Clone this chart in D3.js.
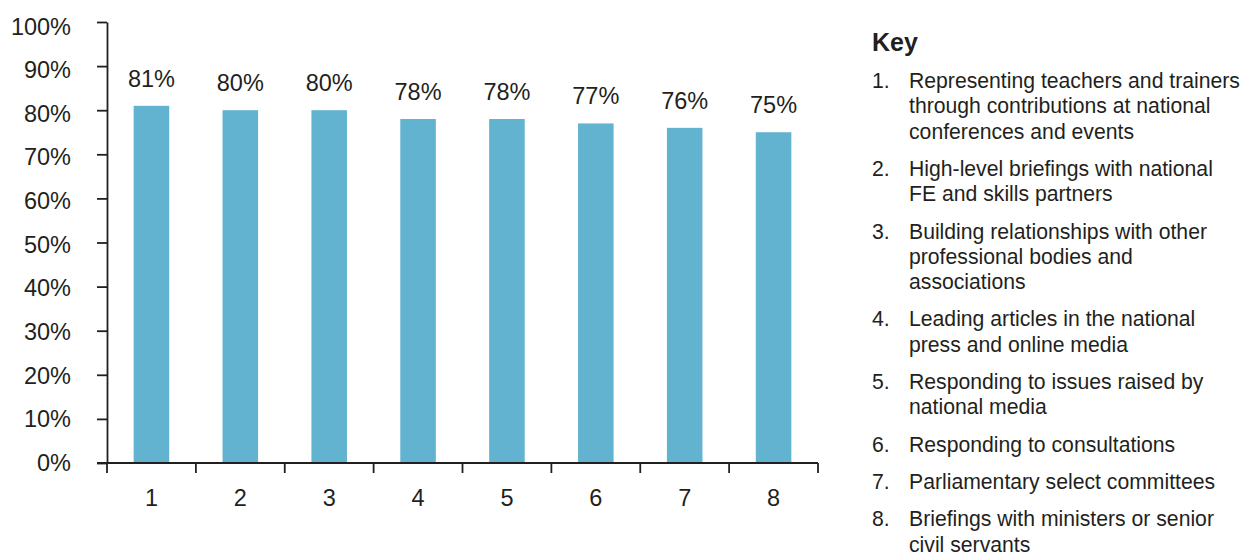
<!DOCTYPE html>
<html>
<head>
<meta charset="utf-8">
<script src="https://cdn.jsdelivr.net/npm/d3@7"></script>
<style>
  html, body { margin: 0; padding: 0; background: #fff; }
  svg { display: block; font-family: "Liberation Sans", Arial, Helvetica, sans-serif; }
</style>
</head>
<body>
<svg id="chart" width="1245" height="554"></svg>
<script>
const categories = ["1", "2", "3", "4", "5", "6", "7", "8"];
const values = [81, 80, 80, 78, 78, 77, 76, 75];
const yTicks = [0, 10, 20, 30, 40, 50, 60, 70, 80, 90, 100];
const keyTitle = "Key";
const keyNumbers = ["1.", "2.", "3.", "4.", "5.", "6.", "7.", "8."];
const keyLines = [
  ["Representing teachers and trainers", "through contributions at national", "conferences and events"],
  ["High-level briefings with national", "FE and skills partners"],
  ["Building relationships with other", "professional bodies and", "associations"],
  ["Leading articles in the national", "press and online media"],
  ["Responding to issues raised by", "national media"],
  ["Responding to consultations"],
  ["Parliamentary select committees"],
  ["Briefings with ministers or senior", "civil servants"]
];

const ink = "#231f20";
const barColor = "#62b3d0";
const axisFont = 23.5;
const keyFont = 21.2;

const svg = d3.select("#chart");

const plotLeft = 107, plotRight = 818, plotTop = 22, plotBottom = 463;

const x = d3.scaleBand().domain(categories).range([plotLeft, plotRight])
  .paddingInner(0.6).paddingOuter(0.3);
const y = d3.scaleLinear().domain([0, 100]).range([plotBottom, plotTop]);
// tick labels in the original sit on a slightly tighter spacing than the ticks
const yLabel = d3.scaleLinear().domain([0, 100]).range([plotBottom + 0.5, plotTop + 5]);

// bars
svg.append("g").selectAll("rect").data(values).join("rect")
  .attr("x", (d, i) => x(categories[i]))
  .attr("y", d => y(d))
  .attr("width", x.bandwidth())
  .attr("height", d => y(0) - y(d))
  .attr("fill", barColor);

// value labels
svg.append("g").selectAll("text").data(values).join("text")
  .attr("x", (d, i) => x(categories[i]) + x.bandwidth() / 2)
  .attr("y", d => y(d) - 19)
  .attr("text-anchor", "middle")
  .attr("font-size", axisFont)
  .attr("fill", ink)
  .text(d => d + "%");

// y axis (ticks + domain)
const yAxis = svg.append("g").attr("transform", `translate(${plotLeft},0)`)
  .call(d3.axisLeft(y).tickValues(yTicks).tickFormat("").tickSize(10).tickSizeOuter(0));
yAxis.select(".domain").attr("stroke", ink).attr("stroke-width", 1.8);
yAxis.selectAll(".tick line").attr("stroke", ink).attr("stroke-width", 1.8);

// y tick labels
svg.append("g").selectAll("text").data(yTicks).join("text")
  .attr("x", plotLeft - 36)
  .attr("y", d => yLabel(d))
  .attr("dy", "0.32em")
  .attr("text-anchor", "end")
  .attr("font-size", axisFont)
  .attr("fill", ink)
  .text(d => d + "%");

// x axis labels
const xAxis = svg.append("g").attr("transform", `translate(0,${plotBottom})`)
  .call(d3.axisBottom(x).tickSize(0).tickPadding(26));
xAxis.select(".domain").remove();
xAxis.selectAll(".tick text").attr("font-size", axisFont).attr("fill", ink)
  .attr("font-family", "'Liberation Sans', Arial, sans-serif");

// x axis baseline and boundary ticks
const boundaries = d3.range(categories.length + 1).map(i => plotLeft + i * x.step());
svg.append("line")
  .attr("x1", plotLeft - 10).attr("x2", plotRight)
  .attr("y1", plotBottom).attr("y2", plotBottom)
  .attr("stroke", ink).attr("stroke-width", 1.8);
svg.append("g").selectAll("line").data(boundaries).join("line")
  .attr("x1", d => d).attr("x2", d => d)
  .attr("y1", plotBottom).attr("y2", plotBottom + 10)
  .attr("stroke", ink).attr("stroke-width", 1.8);

// key
const key = svg.append("g");
key.append("text").attr("x", 872).attr("y", 51)
  .attr("font-size", 25).attr("font-weight", "bold").attr("fill", ink).text(keyTitle);

const lineH = 25.3, gap = 12;
let yPos = 88;
keyLines.forEach((lines, i) => {
  key.append("text").attr("x", 872).attr("y", yPos)
    .attr("font-size", keyFont).attr("fill", ink).text(keyNumbers[i]);
  lines.forEach((ln, j) => {
    key.append("text").attr("x", 909).attr("y", yPos + j * lineH)
      .attr("font-size", keyFont).attr("fill", ink).text(ln);
  });
  yPos += lines.length * lineH + gap;
});
</script>
</body>
</html>
